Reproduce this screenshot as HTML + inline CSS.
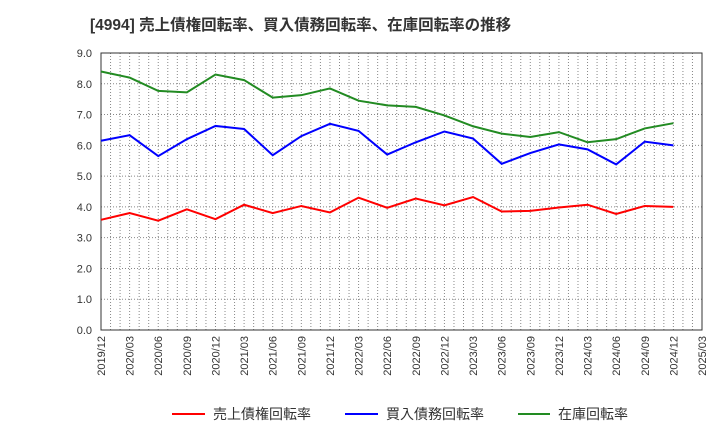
<!DOCTYPE html>
<html><head><meta charset="utf-8"><style>
body{margin:0;background:#fff;font-family:"Liberation Sans","Noto Sans CJK JP",sans-serif}
svg text{font-family:"Liberation Sans","Noto Sans CJK JP",sans-serif}
</style></head><body>
<svg id="c" width="720" height="440" xmlns="http://www.w3.org/2000/svg">
<text x="90" y="30" font-size="15.5" font-weight="bold" fill="#333">[4994]  売上債権回転率、買入債務回転率、在庫回転率の推移</text>
<g id="grid"></g><g id="axes"></g><g id="series"></g>
<g id="legend">
<line x1="172" y1="414" x2="205" y2="414" stroke="#f00" stroke-width="2"/>
<text x="213" y="419" font-size="14" fill="#333">売上債権回転率</text>
<line x1="345" y1="414" x2="378" y2="414" stroke="#00f" stroke-width="2"/>
<text x="386" y="419" font-size="14" fill="#333">買入債務回転率</text>
<line x1="518" y1="414" x2="550" y2="414" stroke="#228b22" stroke-width="2"/>
<text x="558" y="419" font-size="14" fill="#333">在庫回転率</text>
</g>
</svg>
<script>
const xLabels=["2019/12","2020/03","2020/06","2020/09","2020/12","2021/03","2021/06","2021/09","2021/12","2022/03","2022/06","2022/09","2022/12","2023/03","2023/06","2023/09","2023/12","2024/03","2024/06","2024/09","2024/12","2025/03"];
const yTicks=[0,1,2,3,4,5,6,7,8,9];
const receivables=[3.58,3.8,3.55,3.92,3.6,4.07,3.8,4.03,3.82,4.3,3.97,4.27,4.05,4.32,3.85,3.87,3.98,4.07,3.77,4.03,4.0];
const payables=[6.15,6.33,5.65,6.2,6.63,6.53,5.68,6.3,6.7,6.47,5.7,6.1,6.45,6.22,5.4,5.75,6.03,5.87,5.38,6.12,6.0];
const inventory=[8.4,8.2,7.77,7.72,8.3,8.12,7.55,7.63,7.85,7.45,7.3,7.25,6.97,6.62,6.38,6.27,6.43,6.1,6.2,6.55,6.72];
const L=101,R=702,T=53,B=330,NS='http://www.w3.org/2000/svg';
const step=(R-L)/(xLabels.length-1);
const x=i=>L+i*step, y=v=>B-(v/9)*(B-T);
function mk(p,t,a){const e=document.createElementNS(NS,t);for(const k in a)e.setAttribute(k,a[k]);document.getElementById(p).appendChild(e);return e;}
for(let m=0;m<=63;m++){const xx=L+m*step/3;
const g=mk('grid','line',{x1:xx,x2:xx,y1:T,y2:B,stroke:'#888','stroke-dasharray':'1,2'});

}
yTicks.forEach(v=>{const g=mk('grid','line',{x1:L,x2:R,y1:y(v),y2:y(v),stroke:'#888','stroke-dasharray':'1,2'});


const t=mk('axes','text',{x:92,y:y(v)+4,'text-anchor':'end','font-size':'11',fill:'#333'});t.textContent=v.toFixed(1);

});
xLabels.forEach((s,i)=>{const t=mk('axes','text',{transform:`translate(${x(i)+4},${B+6}) rotate(-90)`,'text-anchor':'end','font-size':'11',fill:'#333'});t.textContent=s;

});
const fr=mk('axes','rect',{x:L,y:T,width:R-L,height:B-T,fill:'none',stroke:'#333'});


[[receivables,'#f00','receivables-line'],[payables,'#00f','payables-line'],[inventory,'#228b22','inventory-line']].forEach(([d,c,n])=>{
const p=mk('series','polyline',{points:d.map((v,i)=>x(i)+','+y(v)).join(' '),fill:'none',stroke:c,'stroke-width':2});

});
</script>
</body></html>
